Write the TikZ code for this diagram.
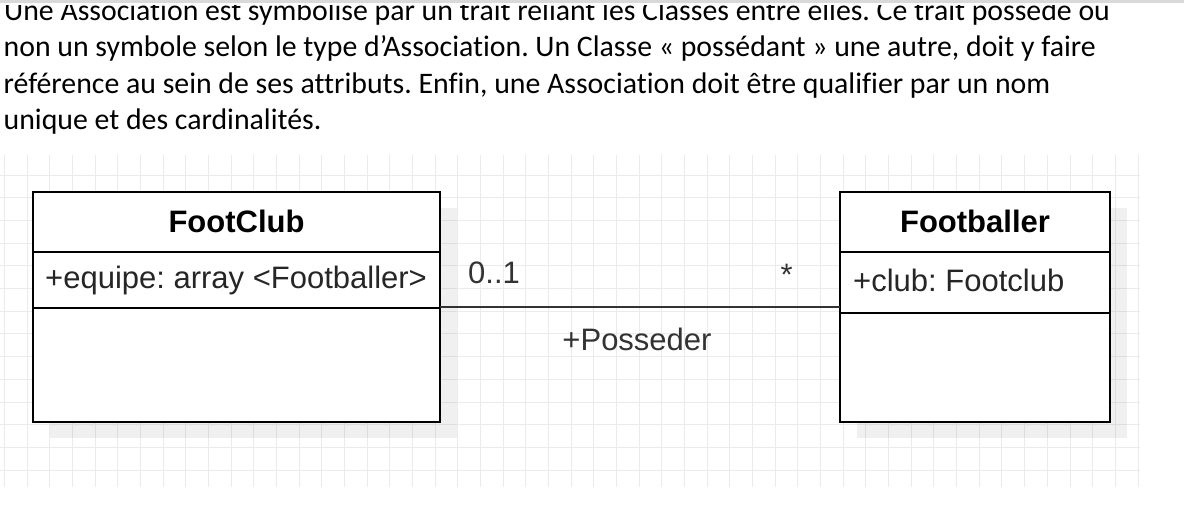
\documentclass[tikz,border=0pt]{standalone}
\usepackage{fontspec}
\setmainfont{Carlito}[Ligatures=NoCommon]
\newfontfamily\umlfont{Liberation Sans}
\usetikzlibrary{shadows}
\frenchspacing

\begin{document}
\begin{tikzpicture}[x=1pt, y=-1pt,
    gridline/.style={draw=black!8, line width=1pt},
    cls/.style={draw, line width=1.8pt, fill=white, inner sep=0pt, outer sep=0pt,
      minimum height=230pt,
      drop shadow={shadow xshift=17pt, shadow yshift=-16pt, fill=black, opacity=0.06}},
    sep/.style={line width=1.8pt},
    hdr/.style={anchor=base, inner sep=0pt, font=\umlfont\bfseries\fontsize{31}{36}\selectfont},
    attr/.style={anchor=base west, inner sep=0pt, text=black!85,
      font=\umlfont\fontsize{31}{36}\selectfont},
    card/.style={anchor=base, inner sep=0pt, text=black!80,
      font=\umlfont\fontsize{31}{36}\selectfont},
    txt/.style={anchor=base west, inner sep=0pt, font=\fontsize{29.8}{36}\selectfont},
    assoc/.style={line width=1.5pt, draw=black!80}]

  \useasboundingbox (0,0) rectangle (1184,504);
  \fill[white] (0,0) rectangle (1184,504);

  % text above the diagram
  \begin{scope}
    \clip (0,5) rectangle (1184,504);
    \node[txt] (line1) at (4,20.5) {Une Association est symbolisé par un trait reliant les Classes entre elles. Ce trait possède ou};
  \end{scope}
  \fill[black!15] (0,0) rectangle (1184,2.5);
  \node[txt] (line2) at (3.5,56.8) {non un symbole selon le type d’Association. Un Classe « possédant » une autre, doit y faire};
  \node[txt] (line3) at (3.5,93.2) {référence au sein de ses attributs. Enfin, une Association doit être qualifier par un nom};
  \node[txt] (line4) at (3.5,129.6) {unique et des cardinalités.};

  % grid
  \foreach \i in {0,...,50}
    \draw[gridline] ({4.5+22.67*\i},155) -- ({4.5+22.67*\i},487);
  \foreach \j in {0,...,13}
    \draw[gridline] (0,{175.3+22.67*\j}) -- (1140,{175.3+22.67*\j});

  % classes
  \node[cls, minimum width=407pt] (club) at (236.5,307) {};
  \node[cls, minimum width=270pt] (player) at (975,307) {};
  \draw[sep] ([yshift=-60pt]club.north west) -- ([yshift=-60pt]club.north east);
  \draw[sep] ([yshift=-116pt]club.north west) -- ([yshift=-116pt]club.north east);
  \draw[sep] ([yshift=-60pt]player.north west) -- ([yshift=-60pt]player.north east);
  \draw[sep] ([yshift=-121pt]player.north west) -- ([yshift=-121pt]player.north east);

  \node[hdr] (clubname) at (236.5,232.7) {FootClub};
  \node[hdr] (playername) at (975,232.7) {Footballer};
  \node[attr] (clubattr) at (45,288) {+equipe: array <Footballer>};
  \node[attr] (playerattr) at (853,291.7) {+club: Footclub};

  % association
  \draw[assoc] (club) -- (player);
  \node[card, anchor=base west] (multclub) at (468,283.3) {0..1};
  \node[card] (multplayer) at (786.7,285) {*};
  \node[card] (assocname) at (637,350) {+Posseder};
\end{tikzpicture}
\end{document}
